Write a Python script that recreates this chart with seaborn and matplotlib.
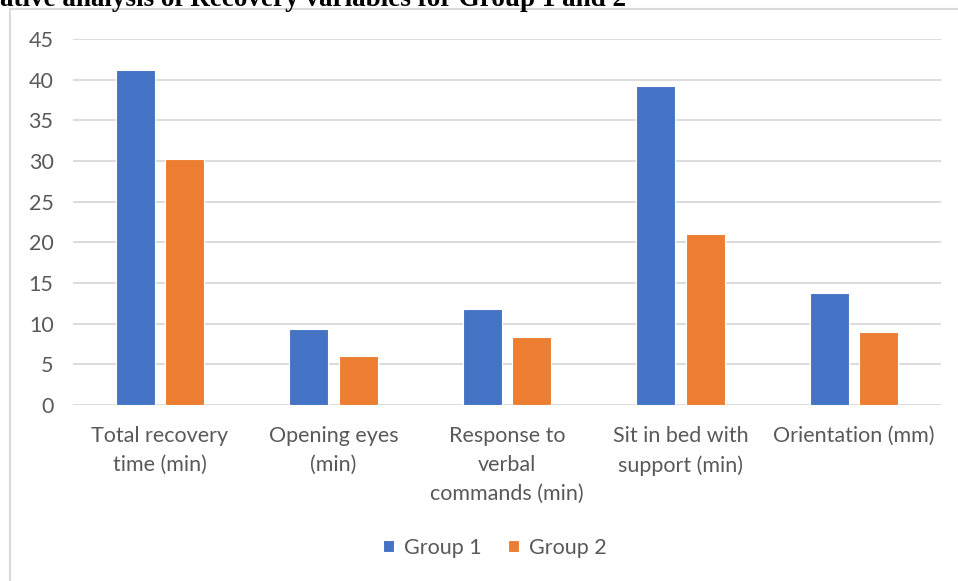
import matplotlib
matplotlib.use("Agg")
import matplotlib.pyplot as plt
import pandas as pd
import seaborn as sns
from matplotlib.lines import Line2D

# values
categories = [
    "Total recovery\ntime (min)",
    "Opening eyes\n(min)",
    "Response to\nverbal\ncommands (min)",
    "Sit in bed with\nsupport (min)",
    "Orientation (mm)",
]
group1 = [41.2, 9.3, 11.8, 39.2, 13.8]
group2 = [30.2, 6.0, 8.3, 21.0, 9.0]
groups = ["Group 1", "Group 2"]
title_text = "ative analysis of Recovery variables for Group 1 and 2"

df = pd.DataFrame({
    "variable": categories * 2,
    "value": group1 + group2,
    "group": [groups[0]] * len(categories) + [groups[1]] * len(categories),
})

sns.set_style("white")
plt.rcParams["font.family"] = ["Lato", "DejaVu Sans"]

W, H = 958, 581
fig = plt.figure(figsize=(W / 100, H / 100), dpi=100)
ax = fig.add_axes([73 / W, 1 - 405 / H, (941 - 73) / W, (405 - 39) / H])

sns.barplot(
    data=df, x="variable", y="value", hue="group",
    palette=["#4472C4", "#ED7D31"], saturation=1, width=0.568, gap=0.21,
    edgecolor="white", linewidth=0.8, ax=ax, zorder=3,
)

ax.set_ylim(0, 45)
ax.set_yticks(range(0, 50, 5))
ax.set_xlim(-0.5, len(categories) - 0.5)
ax.set_xlabel("")
ax.set_ylabel("")
ax.yaxis.grid(True, color="#D9D9D9", linewidth=1.3, zorder=0)
ax.set_axisbelow(True)
for s in ax.spines.values():
    s.set_visible(False)
ax.tick_params(axis="both", length=0, labelsize=15.5, labelcolor="#595959")
ax.tick_params(axis="y", pad=14)
ax.tick_params(axis="x", pad=15)
for lab in ax.get_xticklabels():
    lab.set_linespacing(1.55)

ax.legend(
    loc="center", bbox_to_anchor=(495 / W, 1 - 548 / H),
    bbox_transform=fig.transFigure, ncol=2, frameon=False,
    fontsize=15.5, labelcolor="#595959", handlelength=0.5, handleheight=0.5,
    handletextpad=0.5, columnspacing=1.2,
)

# chart frame (clipped on right and bottom in the reference)
fig.add_artist(Line2D([9.5 / W, 9.5 / W], [0, 1 - 9 / H], color="#D9D9D9",
                      linewidth=1.5, transform=fig.transFigure))
fig.add_artist(Line2D([9.5 / W, 1], [1 - 9 / H, 1 - 9 / H], color="#D9D9D9",
                      linewidth=1.5, transform=fig.transFigure))

fig.text(0, 1 - 6 / H, title_text, fontsize=19.5, fontweight="bold",
         family="Liberation Serif", ha="left", va="baseline", color="black")

fig.savefig("out.png", dpi=100)
